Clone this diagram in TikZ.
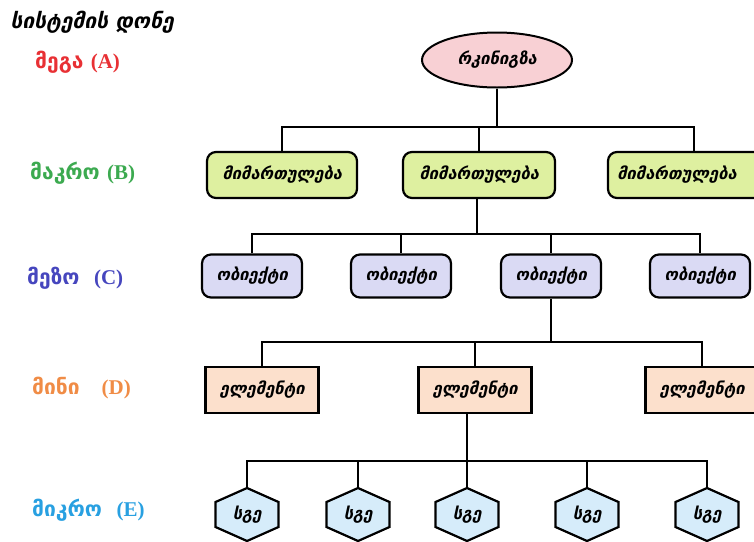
\documentclass[tikz,border=0pt]{standalone}
\usepackage{fontspec}
\setmainfont{DejaVu Sans}
\newfontfamily\geoit[FakeSlant=0.22]{DejaVu Sans}
\newfontfamily\geolab{DejaVu Sans}
\newfontfamily\latser{Liberation Serif}
\usetikzlibrary{shapes.geometric}
\definecolor{megared}{RGB}{232,48,52}
\definecolor{macrogreen}{RGB}{60,170,80}
\definecolor{mesoblue}{RGB}{70,70,190}
\definecolor{miniorange}{RGB}{240,140,70}
\definecolor{microblue}{RGB}{40,160,225}
\definecolor{rootfill}{RGB}{248,208,212}
\definecolor{macrofill}{RGB}{222,240,160}
\definecolor{mesofill}{RGB}{218,218,244}
\definecolor{minifill}{RGB}{252,224,204}
\definecolor{microfill}{RGB}{214,236,250}
\newcommand\hexcell[3]{%
  \draw[hexline] (#2-31.5,#3-12.5) -- (#2,#3-26.5) -- (#2+31.5,#3-12.5) -- (#2+31.5,#3+12.5) -- (#2,#3+26.5) -- (#2-31.5,#3+12.5) -- cycle;
  \node[hextext] (#1) at (#2,#3) {სგე};
  \coordinate (#1top) at (#2,#3-26.5);}
\newcommand\lvlletter[1]{{\latser\bfseries\fontsize{21}{22}\selectfont(#1)}}
\begin{document}
\begin{tikzpicture}[x=1pt,y=-1pt,
  wire/.style={line width=2.2pt},
  boxtext/.style={font=\geoit\bfseries\fontsize{16.5}{18}\selectfont, inner sep=0pt},
  rootnode/.style={boxtext, ellipse, draw, line width=2pt, fill=rootfill, minimum width=150pt, minimum height=55pt},
  macrobox/.style={boxtext, draw, line width=2.2pt, rounded corners=9pt, fill=macrofill, minimum height=46pt},
  mesobox/.style={boxtext, draw, line width=2.2pt, rounded corners=9pt, fill=mesofill, minimum width=100pt, minimum height=43pt},
  minibox/.style={boxtext, draw, line width=2.2pt, fill=minifill, minimum width=113pt, minimum height=46pt},
  hexline/.style={draw, line width=2.2pt, fill=microfill, line join=miter},
  hextext/.style={boxtext},
  lvl/.style={anchor=west, inner sep=0pt, font=\geolab\bfseries\fontsize{21}{24}\selectfont}
]
\useasboundingbox (0,0) rectangle (754,541);
% level labels
\node[anchor=west, inner sep=0pt, font=\geoit\bfseries\fontsize{21}{24}\selectfont] (title) at (10,22) {სისტემის დონე};
\node[lvl, text=megared] (la) at (35,62) {მეგა \lvlletter{A}};
\node[lvl, text=macrogreen] (lb) at (30,173) {მაკრო \lvlletter{B}};
\node[lvl, text=mesoblue] (lc) at (27,278) {მეზო \ \lvlletter{C}};
\node[lvl, text=miniorange] (ld) at (32,388) {მინი \ \ \lvlletter{D}};
\node[lvl, text=microblue] (le) at (32,510) {მიკრო \ \lvlletter{E}};
% root
\node[rootnode] (root) at (497,60) {რკინიგზა};
% macro
\node[macrobox, minimum width=150pt] (m1) at (282,175) {მიმართულება};
\node[macrobox, minimum width=152pt] (m2) at (479,175) {მიმართულება};
\node[macrobox, minimum width=172pt, text width=154pt, align=left] (m3) at (694,175) {მიმართულება};
% meso
\node[mesobox] (o1) at (252,276) {ობიექტი};
\node[mesobox] (o2) at (401,276) {ობიექტი};
\node[mesobox] (o3) at (551,276) {ობიექტი};
\node[mesobox] (o4) at (700,276) {ობიექტი};
% mini
\node[minibox] (e1) at (262,390) {ელემენტი};
\node[minibox] (e2) at (475,390) {ელემენტი};
\node[minibox] (e3) at (702,390) {ელემენტი};
% micro
\hexcell{h1}{247}{514.5}
\hexcell{h2}{358}{514.5}
\hexcell{h3}{467}{514.5}
\hexcell{h4}{587}{514.5}
\hexcell{h5}{707}{514.5}
% connectors
\coordinate (r1) at (root.south |- 0,127);
\draw[wire] (root.south) -- (r1);
\draw[wire] (m1.north) |- (r1) -| (m3.north);
\draw[wire] (r1 -| m2.north) -- (m2.north);
\coordinate (r2) at (477,234);
\draw[wire] (r2 |- m2.south) -- (r2);
\draw[wire] (o1.north) |- (r2) -| (o4.north);
\draw[wire] (r2 -| o2.north) -- (o2.north);
\draw[wire] (r2 -| o3.north) -- (o3.north);
\coordinate (r3) at (o3.south |- 0,342);
\draw[wire] (o3.south) -- (r3);
\draw[wire] (e1.north) |- (r3) -| (e3.north);
\draw[wire] (r3 -| e2.north) -- (e2.north);
\coordinate (r4) at (h3top |- 0,461);
\draw[wire] (r4 |- e2.south) -- (r4);
\draw[wire] (h1top) |- (r4) -| (h5top);
\draw[wire] (r4 -| h2top) -- (h2top);
\draw[wire] (r4) -- (h3top);
\draw[wire] (r4 -| h4top) -- (h4top);
\end{tikzpicture}
\end{document}
